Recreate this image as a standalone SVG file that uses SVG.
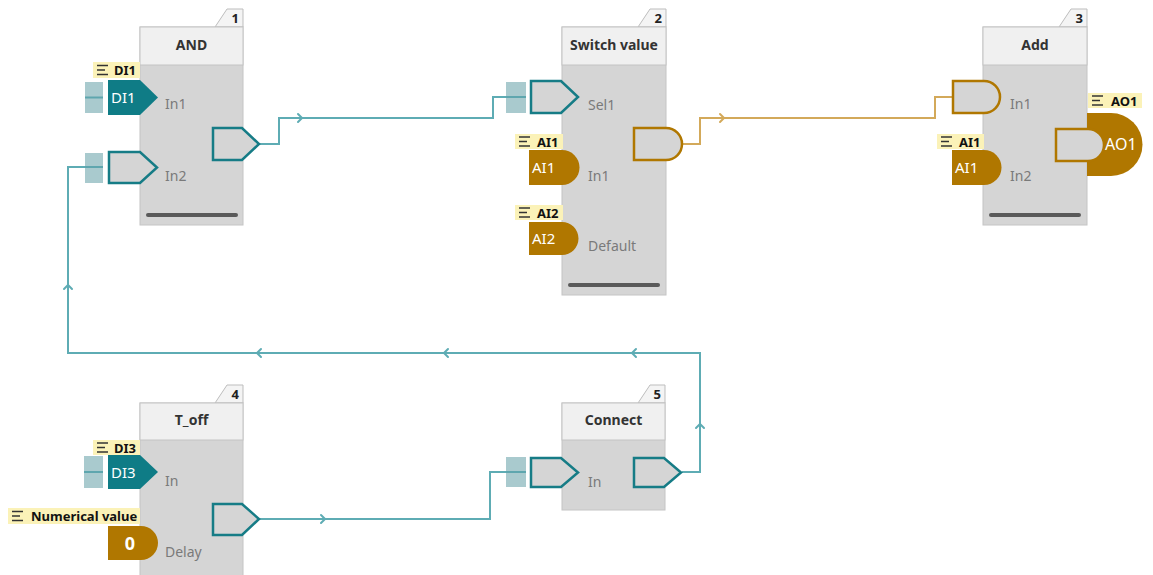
<svg xmlns="http://www.w3.org/2000/svg" width="1153" height="575" viewBox="0 0 1153 575">
<defs>
<style>
.body{fill:#d5d5d5;stroke:#c4c4c4;stroke-width:1}
.head{fill:#f0f0f0;stroke:#c4c4c4;stroke-width:1}
.tab{fill:#f4f4f4;stroke:#bdbdbd;stroke-width:1}
.num{font-family:"Noto Sans","Open Sans",sans-serif;font-size:13px;font-weight:bold;fill:#222;text-anchor:end}
.title{font-family:"Noto Sans","Open Sans",sans-serif;font-size:14px;font-weight:bold;fill:#333;text-anchor:middle}
.port{font-family:"Noto Sans","Open Sans",sans-serif;font-size:14px;fill:#7a7a7a}
.bar{stroke:#5a5a5a;stroke-width:4;stroke-linecap:round}
.tag{fill:#fbf2b8}
.tagt{font-family:"Noto Sans","Open Sans",sans-serif;font-size:13px;font-weight:bold;fill:#111}
.ico{stroke:#333;stroke-width:1.5}
.sq{fill:#a9cace}
.sql{stroke:#5ea6ae;stroke-width:2}
.tout{fill:#d5d5d5;stroke:#167c86;stroke-width:2.5;stroke-linejoin:miter}
.tfill{fill:#0f7c86}
.gout{fill:#d5d5d5;stroke:#b07700;stroke-width:2.5}
.gfill{fill:#b07700}
.pint{font-family:"Noto Sans","Open Sans",sans-serif;font-size:15px;fill:#ffffff}
.wt{fill:none;stroke:#5eacb4;stroke-width:2}
.wg{fill:none;stroke:#d3a95a;stroke-width:2}
.arr{fill:none;stroke-width:2;stroke-linecap:round;stroke-linejoin:round}
</style>
</defs>

<g id="connectors">
<path class="wt" d="M260,144 H279 V118 H493 V97 H506"/>
<path class="arr" stroke="#5eacb4" d="M298,114 L302,118 L298,122"/>
<path class="wg" d="M683,144 H700 V118 H935 V97 H952"/>
<path class="arr" stroke="#d3a95a" d="M720,114 L724,118 L720,122"/>
<path class="wt" d="M260,519 H490 V472 H506"/>
<path class="arr" stroke="#5eacb4" d="M321,515 L325,519 L321,523"/>
<path class="wt" d="M682,472 H700 V353 H68 V167 H85"/>
<path class="arr" stroke="#5eacb4" d="M696,428 L700,424 L704,428"/>
<path class="arr" stroke="#5eacb4" d="M636,349 L632,353 L636,357"/>
<path class="arr" stroke="#5eacb4" d="M448,349 L444,353 L448,357"/>
<path class="arr" stroke="#5eacb4" d="M261,349 L257,353 L261,357"/>
<path class="arr" stroke="#5eacb4" d="M64,289 L68,285 L72,289"/>
</g>

<g id="node1">
<path class="tab" d="M215,27 L227,9 H243 V27 Z"/>
<text class="num" x="239" y="23">1</text>
<rect class="body" x="140" y="27" width="103" height="198"/>
<rect class="head" x="140" y="27" width="103" height="38"/>
<text class="title" x="191.5" y="50">AND</text>
<text class="port" x="165" y="109">In1</text>
<text class="port" x="165" y="181">In2</text>
<line class="bar" x1="148" y1="215" x2="236" y2="215"/>
<rect class="tag" x="93" y="62" width="47" height="16"/>
<g class="ico"><line x1="97" y1="65.5" x2="108" y2="65.5"/><line x1="97" y1="70" x2="105" y2="70"/><line x1="97" y1="74.5" x2="108" y2="74.5"/></g>
<text class="tagt" x="114" y="75">DI1</text>
<rect class="sq" x="85" y="82" width="18" height="31"/>
<line class="sql" x1="85" y1="97.5" x2="103" y2="97.5"/>
<path class="tfill" d="M108,80 H140 L158,97.5 L140,115 H108 Z"/>
<text class="pint" x="111" y="103">DI1</text>
<rect class="sq" x="85" y="153" width="18" height="30"/>
<line class="sql" x1="85" y1="167" x2="103" y2="167"/>
<path class="tout" d="M109,152 H140 L157,167.5 L140,183 H109 Z"/>
<path class="tout" d="M213,128 H242 L259,144 L242,160 H213 Z"/>
</g>

<g id="node2">
<path class="tab" d="M638,27 L650,9 H666 V27 Z"/>
<text class="num" x="662" y="23">2</text>
<rect class="body" x="562" y="27" width="104" height="268"/>
<rect class="head" x="562" y="27" width="104" height="38"/>
<text class="title" x="614" y="50">Switch value</text>
<text class="port" x="588" y="110">Sel1</text>
<text class="port" x="588" y="181">In1</text>
<text class="port" x="588" y="251">Default</text>
<line class="bar" x1="570" y1="285" x2="658" y2="285"/>
<rect class="sq" x="506" y="82" width="20" height="31"/>
<line class="sql" x1="506" y1="97" x2="526" y2="97"/>
<path class="tout" d="M531,81 H561 L578,97 L561,113 H531 Z"/>
<rect class="tag" x="515" y="134" width="48" height="15"/>
<g class="ico"><line x1="519" y1="137" x2="530" y2="137"/><line x1="519" y1="141.5" x2="527" y2="141.5"/><line x1="519" y1="146" x2="530" y2="146"/></g>
<text class="tagt" x="537" y="146.5">AI1</text>
<path class="gfill" d="M529,150 H562 A17.5,17.5 0 0 1 562,185 H529 Z"/>
<text class="pint" x="532" y="173">AI1</text>
<rect class="tag" x="515" y="205" width="48" height="15"/>
<g class="ico"><line x1="519" y1="208" x2="530" y2="208"/><line x1="519" y1="212.5" x2="527" y2="212.5"/><line x1="519" y1="217" x2="530" y2="217"/></g>
<text class="tagt" x="537" y="217.5">AI2</text>
<path class="gfill" d="M529,222 H562 A16.5,16.5 0 0 1 562,255 H529 Z"/>
<text class="pint" x="532" y="244">AI2</text>
<path class="gout" d="M634,128 H666 A16,16 0 0 1 666,160 H634 Z"/>
</g>

<g id="node3">
<path class="tab" d="M1059,27 L1071,9 H1087 V27 Z"/>
<text class="num" x="1083" y="23">3</text>
<rect class="body" x="983" y="27" width="104" height="198"/>
<rect class="head" x="983" y="27" width="104" height="38"/>
<text class="title" x="1035" y="50">Add</text>
<text class="port" x="1010" y="109">In1</text>
<text class="port" x="1010" y="181">In2</text>
<line class="bar" x1="991" y1="215" x2="1079" y2="215"/>
<path class="gout" d="M953,81 H984 A16,16 0 0 1 984,113 H953 Z"/>
<rect class="tag" x="937" y="134" width="47" height="15"/>
<g class="ico"><line x1="941" y1="137" x2="952" y2="137"/><line x1="941" y1="141.5" x2="949" y2="141.5"/><line x1="941" y1="146" x2="952" y2="146"/></g>
<text class="tagt" x="959" y="146.5">AI1</text>
<path class="gfill" d="M952,150 H984 A17.5,17.5 0 0 1 984,185 H952 Z"/>
<text class="pint" x="955" y="173">AI1</text>
<rect class="tag" x="1088" y="93" width="54" height="15"/>
<g class="ico"><line x1="1092" y1="96" x2="1103" y2="96"/><line x1="1092" y1="100.5" x2="1100" y2="100.5"/><line x1="1092" y1="105" x2="1103" y2="105"/></g>
<text class="tagt" x="1111" y="105.5">AO1</text>
<path class="gfill" d="M1087,113 H1111 A31.5,31.5 0 0 1 1111,176 H1087 Z"/>
<path class="gout" d="M1056,129 H1088 A16,16 0 0 1 1088,161 H1056 Z"/>
<text class="pint" x="1105" y="150" style="font-size:16px">AO1</text>
</g>

<g id="node4">
<path class="tab" d="M215,403 L227,385 H243 V403 Z"/>
<text class="num" x="239" y="399">4</text>
<rect class="body" x="140" y="403" width="103" height="180"/>
<rect class="head" x="140" y="403" width="103" height="37"/>
<text class="title" x="191.5" y="425">T_off</text>
<text class="port" x="165" y="486">In</text>
<text class="port" x="165" y="557">Delay</text>
<rect class="tag" x="93" y="440" width="47" height="15"/>
<g class="ico"><line x1="97" y1="443" x2="108" y2="443"/><line x1="97" y1="447.5" x2="105" y2="447.5"/><line x1="97" y1="452" x2="108" y2="452"/></g>
<text class="tagt" x="114" y="452.5">DI3</text>
<rect class="sq" x="84" y="456" width="19" height="32"/>
<line class="sql" x1="84" y1="472" x2="103" y2="472"/>
<path class="tfill" d="M108,455 H140 L158,472 L140,489 H108 Z"/>
<text class="pint" x="111" y="478">DI3</text>
<rect class="tag" x="8" y="508" width="132" height="16"/>
<g class="ico"><line x1="12" y1="511.5" x2="23" y2="511.5"/><line x1="12" y1="516" x2="20" y2="516"/><line x1="12" y1="520.5" x2="23" y2="520.5"/></g>
<text class="tagt" x="31" y="521">Numerical value</text>
<path class="gfill" d="M108,526 H141 A17,17 0 0 1 141,560 H108 Z"/>
<text x="130" y="550" style="font-family:'Noto Sans','Open Sans',sans-serif;font-size:18px;font-weight:bold;fill:#fff" text-anchor="middle">0</text>
<path class="tout" d="M213,504 H242 L259,519 L242,535 H213 Z"/>
</g>

<g id="node5">
<path class="tab" d="M638,403 L650,385 H665 V403 Z"/>
<text class="num" x="661" y="399">5</text>
<rect class="body" x="562" y="403" width="103" height="107"/>
<rect class="head" x="562" y="403" width="103" height="37"/>
<text class="title" x="613.5" y="425">Connect</text>
<text class="port" x="588" y="487">In</text>
<rect class="sq" x="506" y="457" width="20" height="30"/>
<line class="sql" x1="506" y1="472" x2="526" y2="472"/>
<path class="tout" d="M531,458 H561 L578,472.5 L561,487 H531 Z"/>
<path class="tout" d="M634,458 H664 L681,472.5 L664,487 H634 Z"/>
</g>
</svg>
